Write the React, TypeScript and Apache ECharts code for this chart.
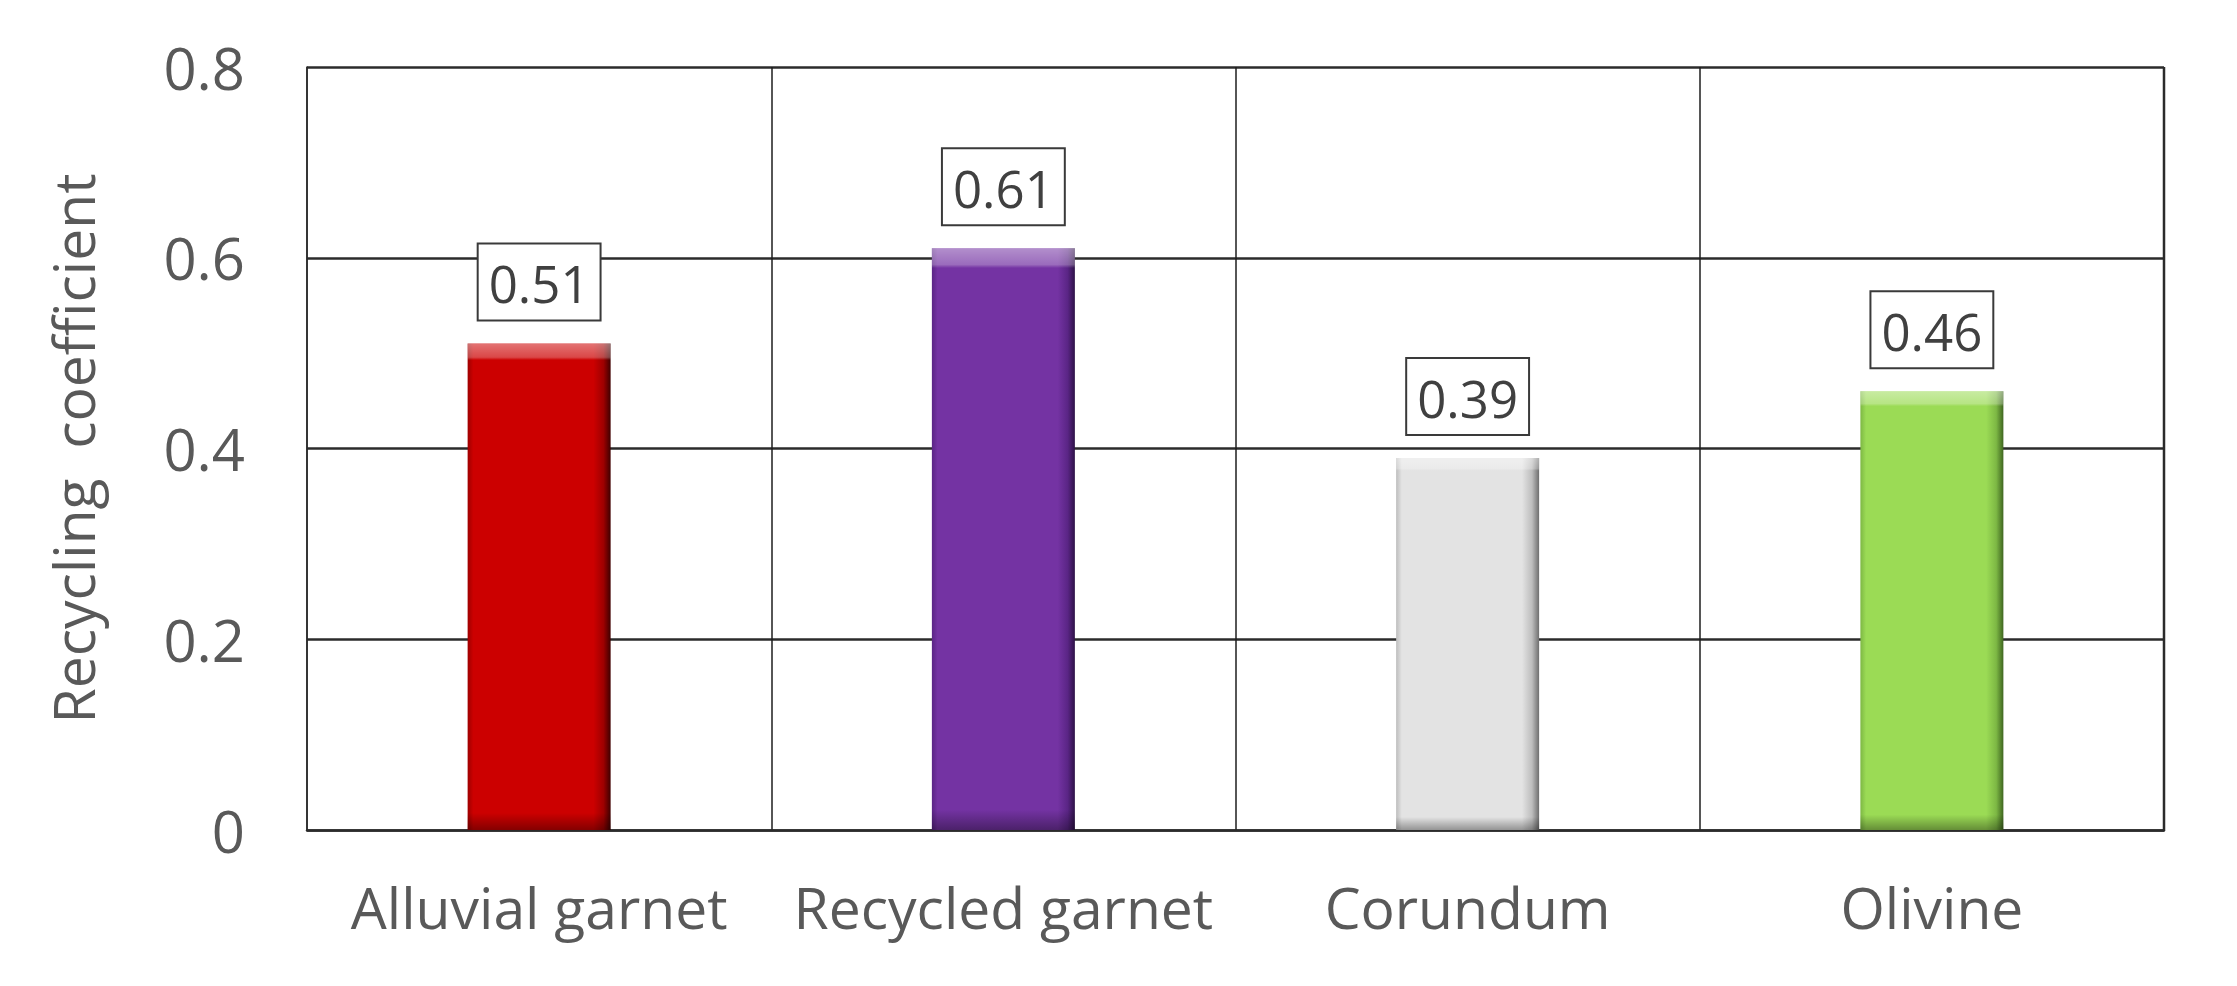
import React, { useEffect, useRef } from "react";
import * as echarts from "echarts";

const categories = ["Alluvial garnet", "Recycled garnet", "Corundum", "Olivine"];
const values = [0.51, 0.61, 0.39, 0.46];
const yAxisTitle = "Recycling  coefficient";

const barColors = [
  { edge: "#9E0000", main: "#CC0000", dark: "#3F0000" },
  { edge: "#5A2585", main: "#7433A3", dark: "#2E1247" },
  { edge: "#BDBDBD", main: "#E3E3E3", dark: "#6E6E6E" },
  { edge: "#7DB844", main: "#9BDB55", dark: "#3F6620" },
];

const FONT = "Open Sans";
const TEXT = "#595959";

export default function App() {
  const ref = useRef<HTMLDivElement>(null);
  useEffect(() => {
    document.body.style.margin = "0";
    if (!ref.current) return;
    const chart = echarts.init(ref.current, undefined, { renderer: "svg" });
    const mainData = values.map((v, i) => ({
      value: v,
      itemStyle: {
        color: new echarts.graphic.LinearGradient(0, 0, 1, 0, [
          { offset: 0, color: barColors[i].edge },
          { offset: 0.04, color: barColors[i].main },
          { offset: 0.88, color: barColors[i].main },
          { offset: 0.95, color: barColors[i].edge },
          { offset: 1, color: barColors[i].dark },
        ]),
      },
    }));
    const overlayData = values.map((v) => ({
      value: v,
      itemStyle: {
        color: new echarts.graphic.LinearGradient(0, 0, 0, 1, [
          { offset: 0, color: "rgba(255,255,255,0.45)" },
          { offset: 0.028, color: "rgba(255,255,255,0.28)" },
          { offset: 0.034, color: "rgba(255,255,255,0)" },
          { offset: 0.965, color: "rgba(0,0,0,0)" },
          { offset: 1, color: "rgba(0,0,0,0.35)" },
        ]),
      },
    }));
    chart.setOption({
      animation: false,
      backgroundColor: "#ffffff",
      grid: { left: 307, right: 73, top: 67, bottom: 156, containLabel: false },
      xAxis: {
        type: "category",
        data: categories,
        boundaryGap: true,
        axisLine: { show: true, lineStyle: { color: "#2b2b2b", width: 2.5 } },
        axisTick: { show: false },
        axisLabel: { interval: 0, color: TEXT, fontFamily: FONT, fontSize: 57, margin: 48 },
        splitLine: { show: true, interval: 0, lineStyle: { color: "#1e1e1e", width: 1.5 } },
      },
      yAxis: {
        type: "value",
        min: 0,
        max: 0.8,
        interval: 0.2,
        name: yAxisTitle,
        nameLocation: "middle",
        nameGap: 206,
        nameRotate: 90,
        nameTextStyle: { color: TEXT, fontFamily: FONT, fontSize: 57 },
        axisLine: { show: true, lineStyle: { color: "#2b2b2b", width: 1.5 } },
        axisTick: { show: false },
        axisLabel: { color: TEXT, fontFamily: FONT, fontSize: 58, margin: 62 },
        splitLine: { show: true, lineStyle: { color: "#2b2b2b", width: 2.5 } },
      },
      graphic: [
        {
          type: "line",
          shape: { x1: 2164, y1: 67, x2: 2164, y2: 830 },
          style: { stroke: "#2b2b2b", lineWidth: 2.5 },
          z: 10,
        },
      ],
      series: [
        {
          type: "bar",
          data: mainData,
          barWidth: 143,
          barGap: "-100%",
          label: {
            show: true,
            position: "top",
            distance: 24,
            formatter: (p: any) => Number(p.value).toFixed(2),
            color: "#404040",
            fontFamily: FONT,
            fontSize: 51,
            backgroundColor: "#ffffff",
            borderColor: "#3a3a3a",
            borderWidth: 2,
            padding: [13, 10, 11, 10],
          },
          z: 2,
        },
        {
          type: "bar",
          data: overlayData,
          barWidth: 143,
          barGap: "-100%",
          silent: true,
          z: 3,
        },
      ],
    });
    return () => chart.dispose();
  }, []);
  return <div ref={ref} style={{ width: 2237, height: 986 }} />;
}
